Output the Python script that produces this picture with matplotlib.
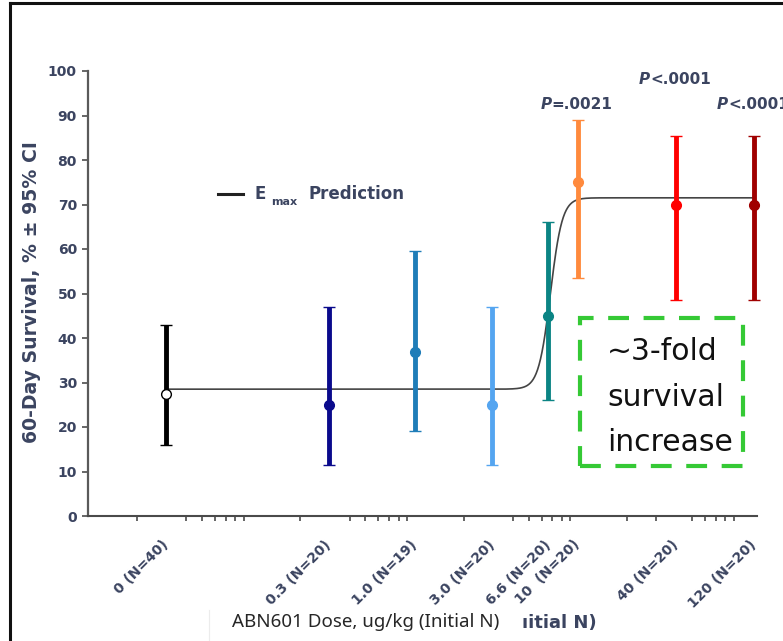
import numpy as np
import matplotlib
matplotlib.use("Agg")
import matplotlib.pyplot as plt
from matplotlib.lines import Line2D
from matplotlib.patches import Rectangle
from matplotlib.ticker import FixedLocator, NullFormatter
from matplotlib.transforms import offset_copy

# ---- data -------------------------------------------------------------
# The untreated control (0 ug/kg) sits at 0.03 on the log dose axis.
dose_labels = ["0 (N=40)", "0.3 (N=20)", "1.0 (N=19)", "3.0 (N=20)",
               "6.6 (N=20)", "10  (N=20)", "40 (N=20)", "120 (N=20)"]
dose_positions = [0.03, 0.3, 1.0, 3.0, 6.6, 10, 40, 120]
survival = [27.5, 25.0, 36.8, 25.0, 45.0, 75.0, 70.0, 70.0]
ci_low = [16.0, 11.5, 19.0, 11.5, 26.0, 53.5, 48.5, 48.5]
ci_high = [43.0, 47.0, 59.5, 47.0, 66.0, 89.0, 85.5, 85.5]
group_colors = ["#000000", "#0a0a8c", "#1f7db8", "#55a5f0",
                "#0b8484", "#ff8a3d", "#ff0000", "#a00000"]

# Emax model prediction parameters
E0 = 28.5
EMAX = 71.5
ED50 = 6.8
HILL = 12

# p-values versus control
p_doses = [10, 40, 120]
p_heights = [92.5, 98.0, 92.5]
p_texts = ["=.0021", "<.0001", "<.0001"]

# minor tick marks along the dose axis
tick_decades = [0.02, 0.2, 2, 20]
tick_steps = [[1, 2, 2.5, 3, 3.5, 4, 4.5],
              [1, 2, 2.5, 3, 3.5, 4, 4.5],
              [1, 2, 2.5, 3, 3.5, 4, 4.5],
              [1, 1.5, 2.5, 3, 3.5, 4, 4.5]]

TXT = "#3b4460"
BOLD = "DejaVu Sans"

# ---- figure -----------------------------------------------------------
W, H = 783, 641
fig = plt.figure(figsize=(W / 100, H / 100), dpi=100)
ax = fig.add_axes([88 / W, 125 / H, 669 / W, 445 / H])
ax.set_xscale("log")
ax.set_xlim(0.01, 125.3)
ax.set_ylim(0, 100)

for side in ("top", "right"):
    ax.spines[side].set_visible(False)
ax.spines["left"].set_color("#5a5a5a")
ax.spines["left"].set_linewidth(1.6)
ax.spines["bottom"].set_color("#4a4a4a")
ax.spines["bottom"].set_linewidth(1.5)

# y axis
ax.set_yticks(np.arange(0, 101, 10))
ax.tick_params(axis="y", direction="out", length=4.5, width=1.3,
               color="#5a5a5a", pad=3.5, labelsize=10, labelcolor=TXT)
for lab in ax.get_yticklabels():
    lab.set_fontweight("bold")
    lab.set_family(BOLD)

ax.set_ylabel("60-Day Survival, % \u00b1 95% CI", fontsize=13.6,
              fontweight="bold", family=BOLD, color=TXT)
ax.yaxis.set_label_coords(-0.071, 0.503)

# x axis: labelled dose groups, unlabelled log minor marks
ax.set_xticks(dose_positions)
ax.set_xticklabels(dose_labels)
ax.tick_params(axis="x", which="major", length=0, pad=19,
               labelsize=10, labelcolor=TXT)
for lab in ax.get_xticklabels():
    lab.set_fontweight("bold")
    lab.set_family(BOLD)
    lab.set_rotation(45)
    lab.set_ha("right")
    lab.set_va("center")
    lab.set_rotation_mode("anchor")

minor = [base * m for base, steps in zip(tick_decades, tick_steps) for m in steps]
ax.xaxis.set_minor_locator(FixedLocator(minor))
ax.xaxis.set_minor_formatter(NullFormatter())
ax.tick_params(axis="x", which="minor", direction="out", length=3.5,
               width=1.2, color="#4a4a4a")

# Emax prediction curve
xx = np.geomspace(dose_positions[0], dose_positions[-1], 800)
yy = E0 + (EMAX - E0) * xx ** HILL / (xx ** HILL + ED50 ** HILL)
ax.plot(xx, yy, color="#444444", lw=1.2, zorder=2)

# group means with 95% CI
for i, (d, s, lo, hi, c) in enumerate(zip(dose_positions, survival,
                                          ci_low, ci_high, group_colors)):
    face = "white" if i == 0 else c
    ax.errorbar([d], [s], yerr=[[s - lo], [hi - s]], fmt="o", color=c,
                ecolor=c, elinewidth=3.5, capsize=4, capthick=3,
                markersize=7, markerfacecolor=face, markeredgecolor=c,
                markeredgewidth=1.0, zorder=3, clip_on=False)

# legend for the model curve
ax.add_line(Line2D([0.194, 0.232], [0.724, 0.724], transform=ax.transAxes,
                   color="#222222", lw=2.2))
ax.text(0.2496, 0.724, "E", transform=ax.transAxes, fontsize=12,
        fontweight="bold", family=BOLD, color=TXT, va="center", ha="left")
ax.text(0.2735, 0.706, "max", transform=ax.transAxes, fontsize=8,
        fontweight="bold", family=BOLD, color=TXT, va="center", ha="left")
ax.text(0.3303, 0.724, "Prediction", transform=ax.transAxes, fontsize=12,
        fontweight="bold", family=BOLD, color=TXT, va="center", ha="left")

# p-values
for d, yv, t in zip(p_doses, p_heights, p_texts):
    anchor = offset_copy(ax.transData, fig=fig, x=-26, y=0, units="dots")
    ax.text(d, yv, "P", transform=anchor, fontsize=11, fontweight="bold",
            fontstyle="italic", family=BOLD, color=TXT, ha="right",
            va="center", clip_on=False)
    ax.text(d, yv, t, transform=anchor, fontsize=11, fontweight="bold",
            family=BOLD, color=TXT, ha="left", va="center", clip_on=False)

# highlighted call-out
ax.add_patch(Rectangle((0.7354, 0.1124), 0.979 - 0.7354, 0.445 - 0.1124,
                       transform=ax.transAxes, fill=False,
                       edgecolor="#35c935", lw=3,
                       linestyle=(0, (5, 3.5)), zorder=4))
ax.text(0.776, 0.402, "~3-fold\nsurvival\nincrease", transform=ax.transAxes,
        fontsize=21.5, family="DejaVu Sans", color="#111111", ha="left",
        va="top", linespacing=1.72, zorder=5)

# dose axis title
fig.text(597 / W, 1 - 623 / H, "\u0131itial N)", fontsize=13,
         fontweight="bold", family=BOLD, color=TXT, ha="right", va="center")
fig.add_artist(Line2D([209 / W, 209 / W], [0, 1 - 610 / H],
                      transform=fig.transFigure, color="#ececec", lw=0.8))
fig.text(366 / W, 1 - 622 / H, "ABN601 Dose, ug/kg (Initial N)",
         fontsize=13.5, family="Noto Sans", color="#262626",
         ha="center", va="center")

# page frame
fig.add_artist(Line2D([10 / W, 10 / W], [0, 1 - 3 / H],
                      transform=fig.transFigure, color="#111111", lw=2.2))
fig.add_artist(Line2D([10 / W, 1], [1 - 3 / H, 1 - 3 / H],
                      transform=fig.transFigure, color="#111111", lw=2.2))

fig.savefig("out.png", dpi=100, facecolor="white")
